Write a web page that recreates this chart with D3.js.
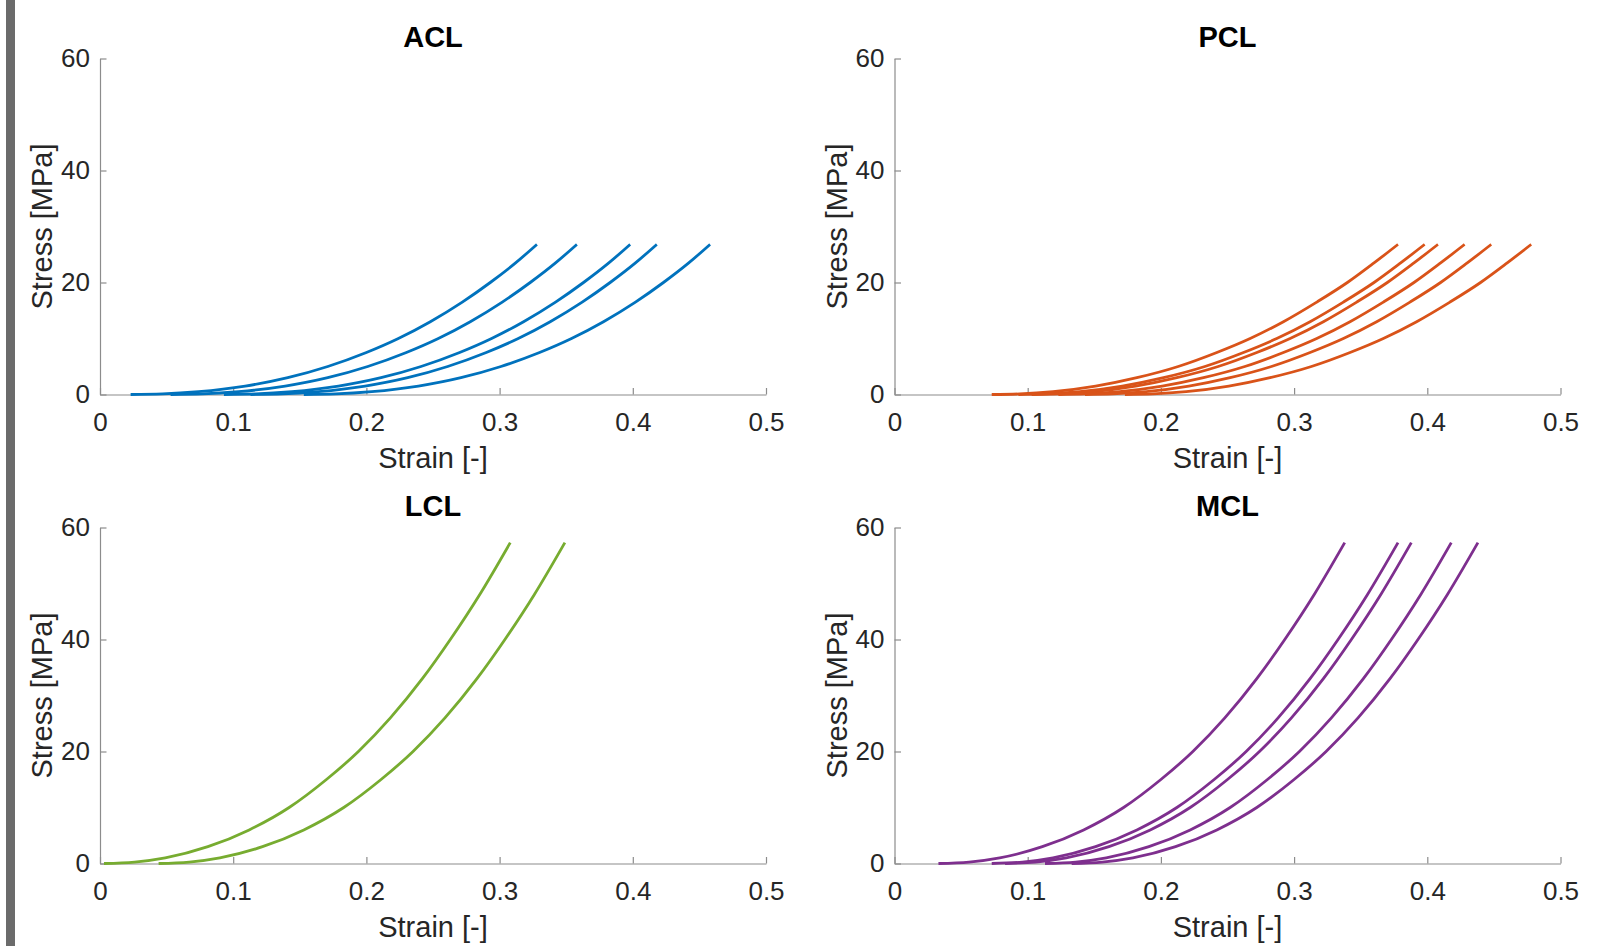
<!DOCTYPE html>
<html>
<head>
<meta charset="utf-8">
<script src="https://cdn.jsdelivr.net/npm/d3@7"></script>
<style>
  body { margin: 0; background: #fff; }
  svg { display: block; }
</style>
</head>
<body>
<div id="chart"></div>
<script>
w = 1610;
h = 946;

var titles = ["ACL", "PCL", "LCL", "MCL"];
var colors = ["#0072BD", "#D95319", "#77AC30", "#7E2F8E"];
var strainTicks = [0, 0.1, 0.2, 0.3, 0.4, 0.5];
var stressTicks = [0, 20, 40, 60];

// stress levels [MPa] where strain was read for each curve
var aclStress = [0, 0.1, 0.5, 1.5, 3, 5, 7.5, 10, 13, 16.5, 20, 23.5, 26.8];
var aclStrain = [
  [0.023, 0.047, 0.074, 0.109, 0.141, 0.171, 0.200, 0.224, 0.248, 0.272, 0.293, 0.312, 0.328],
  [0.053, 0.077, 0.104, 0.139, 0.171, 0.201, 0.230, 0.254, 0.278, 0.302, 0.323, 0.342, 0.358],
  [0.093, 0.117, 0.144, 0.179, 0.211, 0.241, 0.270, 0.294, 0.318, 0.342, 0.363, 0.382, 0.398],
  [0.113, 0.137, 0.164, 0.199, 0.231, 0.261, 0.290, 0.314, 0.338, 0.362, 0.383, 0.402, 0.418],
  [0.153, 0.177, 0.204, 0.239, 0.271, 0.301, 0.330, 0.354, 0.378, 0.402, 0.423, 0.442, 0.458]
];

var pclStress = [0, 0.1, 0.5, 1.5, 3, 5, 7.5, 10, 13, 16.5, 20, 23.5, 26.8];
var pclStrain = [
  [0.073, 0.094, 0.119, 0.151, 0.182, 0.213, 0.242, 0.267, 0.292, 0.317, 0.340, 0.360, 0.378],
  [0.093, 0.114, 0.139, 0.171, 0.202, 0.233, 0.262, 0.287, 0.312, 0.337, 0.360, 0.380, 0.398],
  [0.103, 0.124, 0.149, 0.181, 0.212, 0.243, 0.272, 0.297, 0.322, 0.347, 0.370, 0.390, 0.408],
  [0.123, 0.144, 0.169, 0.201, 0.232, 0.263, 0.292, 0.317, 0.342, 0.367, 0.390, 0.410, 0.428],
  [0.143, 0.164, 0.189, 0.221, 0.252, 0.283, 0.312, 0.337, 0.362, 0.387, 0.410, 0.430, 0.448],
  [0.173, 0.194, 0.219, 0.251, 0.282, 0.313, 0.342, 0.367, 0.392, 0.417, 0.440, 0.460, 0.478]
];

var lclStress = [0, 0.25, 1, 3, 6, 10, 15, 20, 26, 33, 40, 48, 57.3];
var lclStrain = [
  [0.003, 0.026, 0.049, 0.081, 0.112, 0.142, 0.170, 0.194, 0.218, 0.242, 0.263, 0.285, 0.308],
  [0.044, 0.067, 0.090, 0.122, 0.153, 0.183, 0.211, 0.235, 0.259, 0.283, 0.304, 0.326, 0.349]
];

var mclStress = [0, 0.25, 1, 3, 6, 10, 15, 20, 26, 33, 40, 48, 57.3];
var mclStrain = [
  [0.033, 0.056, 0.079, 0.111, 0.142, 0.172, 0.200, 0.224, 0.248, 0.272, 0.293, 0.315, 0.338],
  [0.073, 0.096, 0.119, 0.151, 0.182, 0.212, 0.240, 0.264, 0.288, 0.312, 0.333, 0.355, 0.378],
  [0.083, 0.106, 0.129, 0.161, 0.192, 0.222, 0.250, 0.274, 0.298, 0.322, 0.343, 0.365, 0.388],
  [0.113, 0.136, 0.159, 0.191, 0.222, 0.252, 0.280, 0.304, 0.328, 0.352, 0.373, 0.395, 0.418],
  [0.133, 0.156, 0.179, 0.211, 0.242, 0.272, 0.300, 0.324, 0.348, 0.372, 0.393, 0.415, 0.438]
];

var panels = [
  { stress: aclStress, strain: aclStrain, col: 0, row: 0 },
  { stress: pclStress, strain: pclStrain, col: 1, row: 0 },
  { stress: lclStress, strain: lclStrain, col: 0, row: 1 },
  { stress: mclStress, strain: mclStrain, col: 1, row: 1 }
];

var font = "'Liberation Sans', Arial, Helvetica, sans-serif";
var pw = 666, ph = 336;
var colX = [100, 894.5];
var rowY = [58.5, 527.5];

var svg = d3.select("#chart")
  .append("svg")
  .attr("width", w)
  .attr("height", h);

svg.append("rect")
  .attr("width", w)
  .attr("height", h)
  .attr("fill", "#fff");

// grey strip on the left edge
svg.append("rect")
  .attr("x", 6)
  .attr("y", 0)
  .attr("width", 9)
  .attr("height", h)
  .attr("fill", "#6b6b6b");

var x = d3.scaleLinear().domain([0, 0.5]).range([0, pw]);
var y = d3.scaleLinear().domain([0, 60]).range([ph, 0]);

var line = d3.line()
  .x(function(d) { return x(d[0]); })
  .y(function(d) { return y(d[1]); })
  .curve(d3.curveMonotoneX);

panels.forEach(function (p, i) {
  var g = svg.append("g")
    .attr("transform", "translate(" + colX[p.col] + "," + rowY[p.row] + ")");

  // x axis
  var gx = g.append("g")
    .attr("transform", "translate(0," + ph + ")")
    .call(d3.axisBottom(x)
      .tickValues(strainTicks)
      .tickSizeInner(-6.5)
      .tickSizeOuter(0)
      .tickPadding(18)
      .tickFormat(d3.format("")));

  // y axis
  var gy = g.append("g")
    .call(d3.axisLeft(y)
      .tickValues(stressTicks)
      .tickSizeInner(-6.5)
      .tickSizeOuter(0)
      .tickPadding(10)
      .tickFormat(d3.format("")));

  [gx, gy].forEach(function (a) {
    a.select(".domain").attr("stroke", "#8c8c8c").attr("stroke-width", 1.2);
    a.selectAll(".tick line").attr("stroke", "#8c8c8c").attr("stroke-width", 1.2);
    a.selectAll(".tick text")
      .attr("fill", "#262626")
      .attr("font-family", font)
      .attr("font-size", "26px");
  });

  // curves
  g.selectAll("path.curve")
    .data(p.strain)
    .enter().append("path")
    .attr("class", "curve")
    .attr("d", function(s) {
      return line(s.map(function(v, k) { return [v, p.stress[k]]; }));
    })
    .attr("fill", "none")
    .attr("stroke", colors[i])
    .attr("stroke-width", 2.8)
    .attr("stroke-linejoin", "round");

  // title
  g.append("text")
    .attr("x", pw / 2)
    .attr("y", -11.5)
    .attr("text-anchor", "middle")
    .attr("font-family", font)
    .attr("font-size", "29px")
    .attr("font-weight", "bold")
    .attr("fill", "#000")
    .text(titles[i]);

  // axis labels
  g.append("text")
    .attr("x", pw / 2)
    .attr("y", ph + 73)
    .attr("text-anchor", "middle")
    .attr("font-family", font)
    .attr("font-size", "29px")
    .attr("fill", "#262626")
    .text("Strain [-]");

  g.append("text")
    .attr("transform", "translate(-48," + (ph / 2) + ") rotate(-90)")
    .attr("text-anchor", "middle")
    .attr("font-family", font)
    .attr("font-size", "29px")
    .attr("fill", "#262626")
    .text("Stress [MPa]");
});
</script>
</body>
</html>
